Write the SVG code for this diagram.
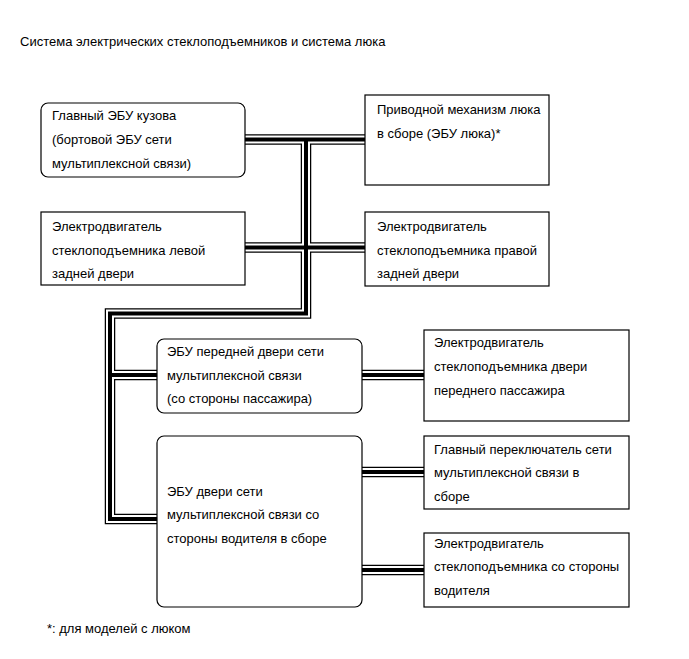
<svg xmlns="http://www.w3.org/2000/svg" width="689" height="659" viewBox="0 0 689 659">
<style>
text{font-family:"Liberation Sans",Arial,sans-serif;font-size:13px;fill:#000}
.box{fill:#fff;stroke:#000;stroke-width:1.2}
.b1{fill:none;stroke:#000;stroke-width:10.5;stroke-linejoin:miter}
.b2{fill:none;stroke:#fff;stroke-width:8}
.b3{fill:none;stroke:#000;stroke-width:4}
</style>
<rect width="689" height="659" fill="#fff"/>
<text x="20" y="46">Система электрических стеклоподъемников и система люка</text>
<g id="connectors">
<g class="b1">
<path d="M245 139.5H365M245 247.5H365M306 139.5V313.5H110V519H157M110 375H157M362 375H424M362 472H424M362 570H424"/>
</g>
<g class="b2">
<path d="M245 139.5H365M245 247.5H365M306 139.5V313.5H110V519H157M110 375H157M362 375H424M362 472H424M362 570H424"/>
</g>
<g class="b3">
<path d="M245 139.5H365M245 247.5H365M306 139.5V313.5H110V519H157M110 375H157M362 375H424M362 472H424M362 570H424"/>
</g>
</g>
<g id="main-ecu">
<rect class="box" x="41" y="103" width="204" height="74" rx="7"/>
<text x="52" y="120">Главный ЭБУ кузова</text>
<text x="52" y="144">(бортовой ЭБУ сети</text>
<text x="52" y="168">мультиплексной связи)</text>
</g>
<g id="sunroof">
<rect class="box" x="365" y="95" width="184" height="90"/>
<text x="377" y="114">Приводной механизм люка</text>
<text x="377" y="138">в сборе (ЭБУ люка)*</text>
</g>
<g id="rear-left">
<rect class="box" x="41" y="212" width="204" height="73"/>
<text x="52" y="231">Электродвигатель</text>
<text x="52" y="255">стеклоподъемника левой</text>
<text x="52" y="278">задней двери</text>
</g>
<g id="rear-right">
<rect class="box" x="365" y="212" width="184" height="74"/>
<text x="377" y="231">Электродвигатель</text>
<text x="377" y="255">стеклоподъемника правой</text>
<text x="377" y="278">задней двери</text>
</g>
<g id="front-ecu">
<rect class="box" x="157" y="339" width="205" height="74" rx="7"/>
<text x="167" y="356">ЭБУ передней двери сети</text>
<text x="167" y="380">мультиплексной связи</text>
<text x="167" y="403">(со стороны пассажира)</text>
</g>
<g id="passenger-motor">
<rect class="box" x="424" y="330" width="205" height="91"/>
<text x="434" y="347">Электродвигатель</text>
<text x="434" y="371">стеклоподъемника двери</text>
<text x="434" y="395">переднего пассажира</text>
</g>
<g id="driver-ecu">
<rect class="box" x="157" y="436" width="205" height="171" rx="7"/>
<text x="167" y="496">ЭБУ двери сети</text>
<text x="167" y="519">мультиплексной связи со</text>
<text x="167" y="543">стороны водителя в сборе</text>
</g>
<g id="master-switch">
<rect class="box" x="424" y="436" width="205" height="73"/>
<text x="434" y="454">Главный переключатель сети</text>
<text x="434" y="477">мультиплексной связи в</text>
<text x="434" y="501">сборе</text>
</g>
<g id="driver-motor">
<rect class="box" x="424" y="533" width="205" height="74"/>
<text x="434" y="548">Электродвигатель</text>
<text x="434" y="571">стеклоподъемника со стороны</text>
<text x="434" y="595">водителя</text>
</g>
<text x="47" y="633">*: для моделей с люком</text>
</svg>
